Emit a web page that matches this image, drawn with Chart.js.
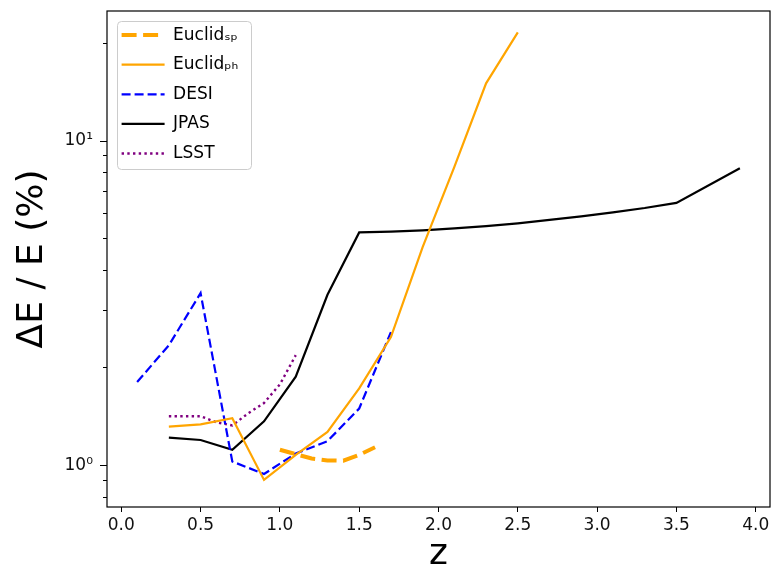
<!DOCTYPE html>
<html>
<head>
<meta charset="utf-8">
<title>Delta E / E against z</title>
<script src="https://cdn.jsdelivr.net/npm/chart.js@4.4.1/dist/chart.umd.min.js"></script>
<style>
  html, body { margin: 0; padding: 0; background: #fff; }
</style>
</head>
<body>
<canvas id="myChart" width="771" height="573"></canvas>
<script>
// values
var zEuclidSp = [1.0, 1.1, 1.2, 1.3, 1.4, 1.5, 1.6];
var euclidSp  = [1.12, 1.085, 1.052, 1.038, 1.036, 1.08, 1.14];

var zEuclidPh = [0.3, 0.5, 0.7, 0.9, 1.1, 1.3, 1.5, 1.7, 1.9, 2.1, 2.3, 2.5];
var euclidPh  = [1.32, 1.34, 1.40, 0.904, 1.08, 1.27, 1.73, 2.49, 4.71, 8.32, 15.06, 21.6];

var zDesi = [0.1, 0.3, 0.5, 0.7, 0.9, 1.1, 1.3, 1.5, 1.7];
var desi  = [1.81, 2.35, 3.40, 1.03, 0.943, 1.09, 1.19, 1.50, 2.58];

var zJpas = [0.3, 0.5, 0.7, 0.9, 1.1, 1.3, 1.5, 1.7, 1.9, 2.1, 2.3, 2.5, 2.7, 2.9, 3.1, 3.3, 3.5, 3.9];
var jpas  = [1.22, 1.20, 1.12, 1.37, 1.88, 3.36, 5.23, 5.26, 5.31, 5.38, 5.47, 5.58, 5.72, 5.86, 6.03, 6.22, 6.45, 8.24];

var zLsst = [0.3, 0.4, 0.5, 0.6, 0.7, 0.8, 0.9, 1.0, 1.1];
var lsst  = [1.42, 1.42, 1.42, 1.36, 1.33, 1.45, 1.56, 1.78, 2.19];

var seriesLabels = ['Euclidₛₚ', 'Euclidₚₕ', 'DESI', 'JPAS', 'LSST'];

var xTickValues = [0.0, 0.5, 1.0, 1.5, 2.0, 2.5, 3.0, 3.5, 4.0];
var yTickValues = [0.8, 0.9, 1, 2, 3, 4, 5, 6, 7, 8, 9, 10, 20];
var yMajorValues = [1, 10];
var yMajorLabels = ['10⁰', '10¹'];

var X_MIN = -0.09, X_MAX = 4.09;
var Y_MIN = 0.746, Y_MAX = 25.15;

var FONT = 'DejaVu Sans';
var LEGEND_PAD = 12.6;

function pts(xs, ys)
{
    return xs.map(function (x, i) { return { x: x, y: ys[i] }; });
}

function isMajor(v)
{
    return yMajorValues.indexOf(v) !== -1;
}

// box round the legend and the frame round the axes, like matplotlib draws them
var framePlugin = {
    id: 'framePlugin',
    afterUpdate: function (chart)
    {
        var lg = chart.legend;
        lg.left = chart.chartArea.left + 2;
        lg.top = chart.chartArea.top + 3;
    },
    beforeDraw: function (chart)
    {
        var lg = chart.legend;
        var hb = lg.legendHitBoxes;
        if (!hb || !hb.length) return;
        var w = 0;
        hb.forEach(function (h) { w = Math.max(w, h.width); });
        var n = hb.length;
        var x0 = lg.left + LEGEND_PAD - 5;
        var y0 = lg.top + 7;
        var x1 = lg.left + LEGEND_PAD + w + 12;
        var y1 = lg.top + LEGEND_PAD + n * 17 + (n - 1) * LEGEND_PAD + 7;
        var ctx = chart.ctx;
        ctx.save();
        ctx.beginPath();
        ctx.roundRect(Math.round(x0) + 0.5, Math.round(y0) + 0.5, Math.round(x1 - x0), Math.round(y1 - y0), 4);
        ctx.fillStyle = 'rgba(255,255,255,0.8)';
        ctx.fill();
        ctx.strokeStyle = '#cccccc';
        ctx.lineWidth = 1;
        ctx.stroke();
        ctx.restore();
    },
    afterDatasetsDraw: function (chart)
    {
        var a = chart.chartArea;
        var ctx = chart.ctx;
        ctx.save();
        ctx.strokeStyle = '#000';
        ctx.lineWidth = 1.2;
        ctx.strokeRect(a.left, a.top, a.right - a.left, a.bottom - a.top);
        ctx.restore();
    }
};

var datasets = [
    { label: seriesLabels[0], data: pts(zEuclidSp, euclidSp), borderColor: 'orange', borderWidth: 4, borderDash: [15, 6.5] },
    { label: seriesLabels[1], data: pts(zEuclidPh, euclidPh), borderColor: 'orange', borderWidth: 2.2 },
    { label: seriesLabels[2], data: pts(zDesi, desi), borderColor: 'blue', borderWidth: 2.2, borderDash: [9, 4] },
    { label: seriesLabels[3], data: pts(zJpas, jpas), borderColor: 'black', borderWidth: 2.2 },
    { label: seriesLabels[4], data: pts(zLsst, lsst), borderColor: 'purple', borderWidth: 2.4, borderDash: [2.4, 3.3] }
];
datasets.forEach(function (d) {
    d.pointRadius = 0;
    d.fill = false;
    d.tension = 0;
    d.backgroundColor = d.borderColor;
});

var ctxL = document.getElementById('myChart').getContext('2d');
var myChart = new Chart(ctxL, {
    type: 'line',
    data: { datasets: datasets },
    plugins: [framePlugin],
    options: {
        responsive: false,
        animation: false,
        devicePixelRatio: 1,
        layout: { padding: { left: 0, right: 1, top: 11, bottom: 0 } },
        plugins: {
            tooltip: { enabled: false },
            legend: {
                position: 'chartArea',
                fullSize: false,
                align: 'start',
                labels: {
                    usePointStyle: true,
                    pointStyleWidth: 43,
                    padding: LEGEND_PAD,
                    color: '#000',
                    font: { family: FONT, size: 17 },
                    generateLabels: function (chart)
                    {
                        return chart.data.datasets.map(function (ds, i) {
                            return {
                                text: ds.label,
                                fillStyle: ds.borderColor,
                                strokeStyle: ds.borderColor,
                                lineWidth: ds.borderWidth,
                                lineDash: ds.borderDash || [],
                                lineCap: 'butt',
                                pointStyle: 'line',
                                fontColor: '#000',
                                datasetIndex: i
                            };
                        });
                    }
                }
            }
        },
        scales: {
            x: {
                type: 'linear',
                bounds: 'data',
                min: X_MIN,
                max: X_MAX,
                afterFit: function (scale) {
                    scale.height = 66;
                    scale.paddingLeft = 0;
                    scale.paddingRight = 0;
                },
                afterBuildTicks: function (scale) {
                    scale.ticks = xTickValues.map(function (v) { return { value: v }; });
                    scale.min = X_MIN;
                    scale.max = X_MAX;
                },
                border: { display: false },
                grid: { drawOnChartArea: false, tickLength: 5, tickColor: '#000', tickWidth: 1 },
                ticks: {
                    autoSkip: false,
                    maxRotation: 0,
                    padding: 3,
                    color: '#111',
                    font: { family: FONT, size: 17 },
                    callback: function (v) { return Number(v).toFixed(1); }
                },
                title: {
                    display: true,
                    text: 'z',
                    color: '#000',
                    font: { family: FONT, size: 36, lineHeight: 1 },
                    padding: { top: 0, bottom: 0 }
                }
            },
            y: {
                type: 'logarithmic',
                bounds: 'data',
                min: Y_MIN,
                max: Y_MAX,
                afterFit: function (scale) {
                    scale.width = 107;
                    scale.paddingTop = 0;
                    scale.paddingBottom = 0;
                },
                afterBuildTicks: function (scale) {
                    scale.ticks = yTickValues.map(function (v) { return { value: v, major: isMajor(v) }; });
                    scale.min = Y_MIN;
                    scale.max = Y_MAX;
                },
                border: { display: false },
                grid: {
                    drawOnChartArea: false,
                    tickLength: 7,
                    tickColor: '#000',
                    tickWidth: 1,
                    // minor ticks: only the inner 4px of the tick line is drawn
                    tickBorderDash: function (c) { return isMajor(c.tick.value) ? [] : [4, 100]; },
                    tickBorderDashOffset: function (c) { return isMajor(c.tick.value) ? 0 : -3; }
                },
                ticks: {
                    autoSkip: false,
                    padding: 7,
                    color: '#111',
                    font: { family: FONT, size: 17 },
                    callback: function (v) {
                        var k = yMajorValues.indexOf(v);
                        return k === -1 ? '' : yMajorLabels[k];
                    }
                },
                title: {
                    display: true,
                    text: 'ΔE / E (%)',
                    color: '#000',
                    font: { family: FONT, size: 36, lineHeight: 1 },
                    padding: { top: 14.5, bottom: 0 }
                }
            }
        }
    }
});
</script>
</body>
</html>
